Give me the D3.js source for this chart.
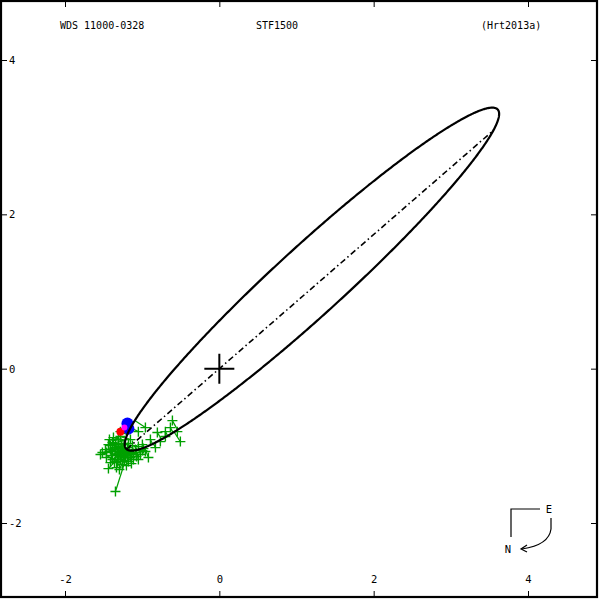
<!DOCTYPE html>
<html><head><meta charset="utf-8">
<script src="https://cdn.jsdelivr.net/npm/d3@7"></script>
<style>body{margin:0;background:#fff}svg{display:block}</style>
</head><body>
<svg id="c" width="600" height="600"></svg>
<script>
// ---- data ----
const titleTexts = ["WDS 11000-0328", "STF1500", "(Hrt2013a)"];
const tickValues = [-2, 0, 2, 4];
// apparent orbit ellipse: center x, center y, semi-major, semi-minor, angle (deg)
const orbitEllipse = [1.20, 1.16, 3.26, 0.445, 42.4];
const nodeAngle = 41.0; // line of nodes through primary (deg)
const obsX = [-1.346,-1.540,-1.437,-0.505,-0.608,-0.544,-0.699,-0.803,-0.958,-1.049,-0.699,-0.634,-1.385,-0.893,-0.764,-0.997,-1.152,-0.828,-1.411,-1.346,-1.282,-1.217,-1.307,-1.152,-1.087,-1.178,-1.256,-1.385,-1.023,-0.958,-1.437,-1.307,-1.230,-1.113,-1.333,-1.463,-1.049,-1.217,-1.372,-0.919,-1.476,-1.411,-1.282,-1.191,-1.126,-1.295,-1.359,-1.243,-1.165,-1.074,-1.424,-1.320,-1.204,-0.984,-1.269,-1.282,-1.515,
  -1.385,-1.307,-1.230,-1.152,-1.074,-0.997,-1.191,-1.269,-1.346,-1.398,-1.463,-1.320,-1.113,-1.178,-1.049,-1.230,-1.359,-1.139,-1.282,-1.411];
const obsY = [-1.592,-1.113,-1.295,-0.945,-0.673,-0.816,-0.816,-0.828,-0.764,-0.816,-0.880,-0.764,-0.958,-0.919,-0.945,-0.984,-0.919,-1.023,-1.049,-1.113,-1.178,-1.074,-1.010,-1.113,-1.049,-1.204,-1.243,-1.178,-1.113,-1.074,-0.984,-0.919,-0.984,-1.178,-1.282,-1.152,-1.010,-1.152,-0.893,-1.152,-1.049,-1.217,-1.087,-1.023,-0.997,-1.307,-1.023,-1.126,-1.062,-1.139,-0.919,-1.204,-1.256,-1.036,-1.036,-0.816,-1.087,
  -1.074,-1.126,-1.191,-1.152,-1.087,-1.062,-1.113,-0.971,-0.971,-1.126,-1.087,-1.074,-1.100,-0.971,-1.178,-1.049,-1.217,-1.230,-0.880,-0.997];
const blueX = [-1.191, -1.178];
const blueY = [-0.712, -0.777];
const redX = [-1.282];
const redY = [-0.816];
const magX = [-1.230];
const magY = [-0.764];

// ---- drawing ----
const svg = d3.select("#c");
const x = d3.scaleLinear().domain([-2, 4]).range([65, 528]);
const y = d3.scaleLinear().domain([-2, 4]).range([523, 60]);
const FONT = "DejaVu Sans Mono";
const FS = 10.5;

// orbit sample
const [ecx, ecy, ea, eb, eang] = orbitEllipse;
const th = eang * Math.PI / 180;
const orbitPts = d3.range(0, 721).map(i => {
  const t = i / 720 * 2 * Math.PI;
  return [ecx + ea * Math.cos(t) * Math.cos(th) - eb * Math.sin(t) * Math.sin(th),
          ecy + ea * Math.cos(t) * Math.sin(th) + eb * Math.sin(t) * Math.cos(th)];
});
function nearest(px, py) {
  let best = null, bd = Infinity;
  for (const p of orbitPts) {
    const d = (p[0] - px) ** 2 + (p[1] - py) ** 2;
    if (d < bd) { bd = d; best = p; }
  }
  return best;
}

// observations (O-C lines + crosses)
const green = "#00a000";
const gObs = svg.append("g");
obsX.forEach((ox, i) => {
  const oy = obsY[i];
  const p = nearest(ox, oy);
  gObs.append("line").attr("x1", x(ox)).attr("y1", y(oy)).attr("x2", x(p[0])).attr("y2", y(p[1]))
    .attr("stroke", green).attr("stroke-width", 1.2);
});
obsX.forEach((ox, i) => {
  const cx = x(ox), cy = y(obsY[i]);
  gObs.append("path").attr("d", `M${cx - 5},${cy}H${cx + 5}M${cx},${cy - 5}V${cy + 5}`)
    .attr("stroke", green).attr("stroke-width", 1.4).attr("fill", "none");
});

// special measures
blueX.forEach((bx, i) => svg.append("circle").attr("cx", x(bx)).attr("cy", y(blueY[i])).attr("r", 6).attr("fill", "#0000ff"));
redX.forEach((rx, i) => svg.append("circle").attr("cx", x(rx)).attr("cy", y(redY[i])).attr("r", 4).attr("fill", "#ff0000"));
magX.forEach((mx, i) => svg.append("circle").attr("cx", x(mx)).attr("cy", y(magY[i])).attr("r", 3).attr("fill", "#ff00ff"));

// orbit
const line = d3.line().x(d => x(d[0])).y(d => y(d[1]));
svg.append("path").attr("d", line(orbitPts)).attr("fill", "none").attr("stroke", "#000").attr("stroke-width", 2.2);

// line of nodes: intersections with ellipse
const ph = nodeAngle * Math.PI / 180;
const dx = Math.cos(ph), dy = Math.sin(ph);
const du = dx * Math.cos(th) + dy * Math.sin(th), dv = -dx * Math.sin(th) + dy * Math.cos(th);
const cu = -(ecx * Math.cos(th) + ecy * Math.sin(th)), cv = -(-ecx * Math.sin(th) + ecy * Math.cos(th));
const A = du * du / (ea * ea) + dv * dv / (eb * eb);
const B = 2 * (cu * du / (ea * ea) + cv * dv / (eb * eb));
const C = cu * cu / (ea * ea) + cv * cv / (eb * eb) - 1;
const disc = Math.sqrt(B * B - 4 * A * C);
const s1 = (-B - disc) / (2 * A), s2 = (-B + disc) / (2 * A);
svg.append("line").attr("x1", x(s1 * dx)).attr("y1", y(s1 * dy)).attr("x2", x(s2 * dx)).attr("y2", y(s2 * dy))
  .attr("stroke", "#000").attr("stroke-width", 1.6).attr("stroke-dasharray", "6,3,1.5,3");

// primary cross
svg.append("path").attr("d", `M${x(0) - 15},${y(0)}H${x(0) + 15}M${x(0)},${y(0) - 15}V${y(0) + 15}`)
  .attr("stroke", "#000").attr("stroke-width", 2);

// frame
svg.append("rect").attr("x", 1).attr("y", 1).attr("width", 596).attr("height", 596)
  .attr("fill", "none").attr("stroke", "#000").attr("stroke-width", 2.2);

// axes
const fmt = d => String(d);
const axB = svg.append("g").attr("transform", "translate(0,597)")
  .call(d3.axisBottom(x).tickValues(tickValues).tickSize(-6).tickFormat(fmt));
axB.selectAll("text").attr("y", -21).attr("dy", "0.71em");
const axT = svg.append("g").attr("transform", "translate(0,1)")
  .call(d3.axisTop(x).tickValues(tickValues).tickSize(-6).tickFormat(""));
const axL = svg.append("g").attr("transform", "translate(1,0)")
  .call(d3.axisLeft(y).tickValues(tickValues).tickSize(-6).tickFormat(fmt));
axL.selectAll("text").attr("x", 8).attr("text-anchor", "start");
const axR = svg.append("g").attr("transform", "translate(597,0)")
  .call(d3.axisRight(y).tickValues(tickValues).tickSize(-6).tickFormat(""));
[axB, axT, axL, axR].forEach(g => {
  g.select(".domain").remove();
  g.selectAll("line").attr("stroke", "#000").attr("stroke-width", 1);
  g.selectAll("text").attr("font-family", FONT).attr("font-size", FS).attr("fill", "#000");
});

// titles
svg.append("text").attr("x", 60).attr("y", 29).text(titleTexts[0]);
svg.append("text").attr("x", 256).attr("y", 29).text(titleTexts[1]);
svg.append("text").attr("x", 481).attr("y", 29).text(titleTexts[2]);
svg.selectAll("text").filter(function(){return !this.closest(".tick");})
  .attr("font-family", FONT).attr("font-size", 10).attr("fill", "#000");

// compass
const comp = svg.append("g").attr("fill", "none").attr("stroke", "#000").attr("stroke-width", 1.2);
comp.append("path").attr("d", "M540,509H511V537");
comp.append("path").attr("d", "M551,518V529Q549,545 522,549");
comp.append("path").attr("d", "M527,545L521,549L527,552");
svg.append("text").attr("x", 549).attr("y", 513).attr("text-anchor", "middle")
  .attr("font-family", FONT).attr("font-size", FS).text("E");
svg.append("text").attr("x", 508).attr("y", 553).attr("text-anchor", "middle")
  .attr("font-family", FONT).attr("font-size", FS).text("N");
</script>
</body></html>
